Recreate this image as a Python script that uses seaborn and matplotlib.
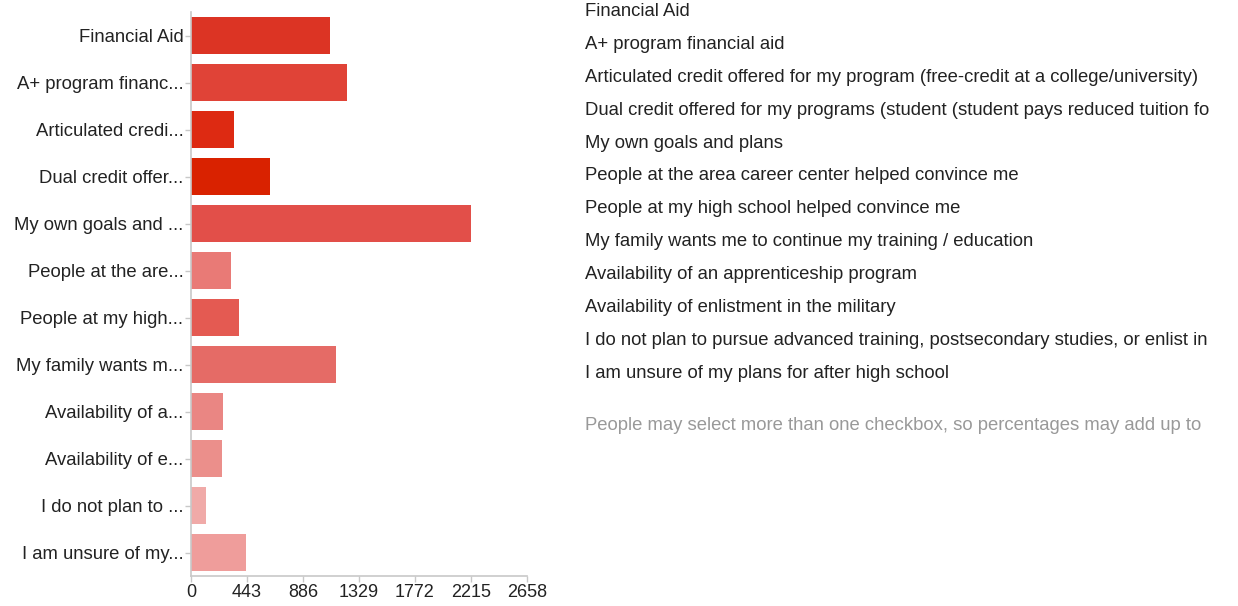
import matplotlib
matplotlib.use("Agg")
import matplotlib.pyplot as plt
import seaborn as sns
import pandas as pd

short_labels = [
    "Financial Aid", "A+ program financ...", "Articulated credi...",
    "Dual credit offer...", "My own goals and ...", "People at the are...",
    "People at my high...", "My family wants m...", "Availability of a...",
    "Availability of e...", "I do not plan to ...", "I am unsure of my...",
]
# legend list as visible in the reference (cut at the right edge of the image)
full_labels = [
    "Financial Aid",
    "A+ program financial aid",
    "Articulated credit offered for my program (free-credit at a college/university)",
    "Dual credit offered for my programs (student (student pays reduced tuition fo",
    "My own goals and plans",
    "People at the area career center helped convince me",
    "People at my high school helped convince me",
    "My family wants me to continue my training / education",
    "Availability of an apprenticeship program",
    "Availability of enlistment in the military",
    "I do not plan to pursue advanced training, postsecondary studies, or enlist in",
    "I am unsure of my plans for after high school",
]
counts = [1101, 1235, 339, 624, 2212, 319, 376, 1150, 254, 248, 121, 438]
bar_colors = ["#DC3424", "#E04337", "#DD2A12", "#D92200", "#E24F49", "#E97A76",
              "#E45A52", "#E56B66", "#EA8683", "#EB8F8B", "#F0AAA8", "#EF9D9B"]
x_ticks = [0, 443, 886, 1329, 1772, 2215, 2658]
note = "People may select more than one checkbox, so percentages may add up to"

df = pd.DataFrame({"label": short_labels, "count": counts})

sns.set_theme(style="white")
plt.rcParams["font.family"] = ["Liberation Sans", "DejaVu Sans"]

FS = 13.3

fig = plt.figure(figsize=(12.38, 6.06), dpi=100)
ax = fig.add_axes([191 / 1238, 1 - 576 / 606, (527 - 191) / 1238, (576 - 12) / 606])

sns.barplot(data=df, y="label", x="count", hue="label", palette=bar_colors,
            orient="h", legend=False, ax=ax, width=0.79, saturation=1,
            edgecolor="none")

ax.set_xlim(0, 2658)
ax.set_xticks(x_ticks)
ax.set_xticklabels([str(t) for t in x_ticks])
ax.set_xlabel("")
ax.set_ylabel("")
for s in ["top", "right"]:
    ax.spines[s].set_visible(False)
for s in ["left", "bottom"]:
    ax.spines[s].set_color("#c8c8c8")
    ax.spines[s].set_linewidth(1.2)
ax.tick_params(axis="y", which="major", length=4, width=1, color="#c8c8c8",
               labelsize=FS, labelcolor="#222222", pad=1.5, left=True)
ax.tick_params(axis="x", which="major", length=4, width=1, color="#c8c8c8",
               labelsize=13, labelcolor="#222222", pad=1.5, bottom=True)

y0 = 11.5
dy = 32.9
for i, t in enumerate(full_labels):
    fig.text(585 / 1238, 1 - (y0 + i * dy) / 606, t, fontsize=FS,
             color="#222222", va="center", ha="left")
fig.text(585 / 1238, 1 - 425 / 606, note, fontsize=FS, color="#999999",
         va="center", ha="left")

fig.savefig("out.png", dpi=100)
